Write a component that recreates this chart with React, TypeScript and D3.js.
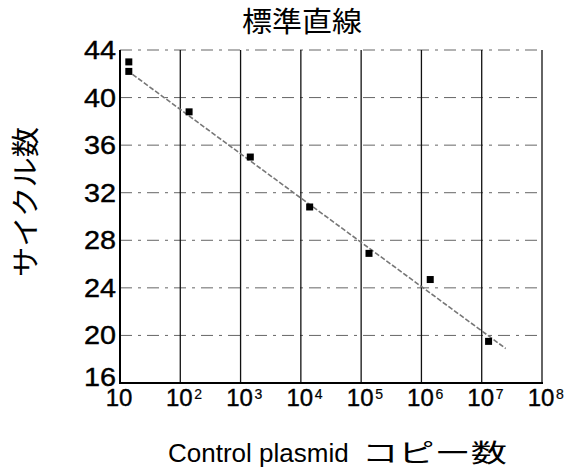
import React from 'react';
import * as d3 from 'd3';

// copy number vs. cycle threshold
const copies = [14, 14, 140, 1450, 14000, 135000, 1.4e6, 1.3e7];
const cycles = [43.0, 42.2, 38.8, 35.0, 30.8, 26.9, 24.7, 19.5];

// fitted line end points
const fitCopies = [13, 2.5e7];
const fitCycles = [42.3, 18.9];

const yTicks = [16, 20, 24, 28, 32, 36, 40, 44];
const xTicks = [10, 1e2, 1e3, 1e4, 1e5, 1e6, 1e7, 1e8];
const xExp = ['', '2', '3', '4', '5', '6', '7', '8'];

const title = '標準直線';
const xTitleLatin = 'Control plasmid';
const xTitleJp = 'コピー数';
const yTitle = 'サイクル数';

const W = 564;
const H = 475;
const left = 120;
const right = 542;
const top = 50;
const bottom = 383;

const font = '"Liberation Sans", Arial, sans-serif';
const jpFont = '"Noto Sans CJK JP", "Liberation Sans", sans-serif';

const App = () => {
    const x = d3.scaleLog().domain([10, 1e8]).range([left, right]);
    const y = d3.scaleLinear().domain([16, 44]).range([bottom, top]);
    const line = d3.line<number>()
        .x((d, i) => x(fitCopies[i]))
        .y(d => y(d));

    return (
        <svg width={W} height={H} style={{ position: 'absolute', left: 0, top: 0, background: '#fff' }}>
            <text x={242} y={32} textLength={120} lengthAdjust="spacingAndGlyphs"
                fontFamily={jpFont} fontSize={28} fill="#000">{title}</text>

            {/* horizontal dash-dot grid */}
            {yTicks.filter(t => t > 16).map(t => (
                <line key={'h' + t} x1={left} x2={right} y1={y(t)} y2={y(t)}
                    stroke="#000" strokeWidth={1} strokeDasharray="12 6 3 6" opacity={0.6} />
            ))}

            {/* vertical decade lines */}
            {xTicks.slice(1).map(t => (
                <line key={'v' + t} x1={x(t)} x2={x(t)} y1={top} y2={bottom}
                    stroke="#111" strokeWidth={1.3} />
            ))}

            {/* axes */}
            <line x1={left} x2={left} y1={top} y2={bottom + 1} stroke="#000" strokeWidth={2} />
            <line x1={left} x2={right + 1} y1={bottom} y2={bottom} stroke="#000" strokeWidth={2} />

            {/* fit line */}
            <path d={line(fitCycles) || ''} fill="none" stroke="#777" strokeWidth={1.6} strokeDasharray="5 2" />

            {/* points */}
            {copies.map((c, i) => (
                <rect key={'p' + i} x={x(c) - 3.5} y={y(cycles[i]) - 3.5} width={7} height={7} fill="#000" />
            ))}

            {/* y tick labels */}
            {yTicks.map(t => (
                <text key={'yl' + t} x={84} y={y(t) - (t === 16 ? 6 : 0)} dy="0.36em"
                    textLength={32} lengthAdjust="spacingAndGlyphs"
                    fontFamily={font} fontSize={25} fill="#000" stroke="#000" strokeWidth={0.4}>{t}</text>
            ))}

            {/* x tick labels */}
            {xTicks.map((t, i) => (
                <g key={'xl' + t}>
                    <text x={x(t) - 1} y={406} textAnchor="middle" fontFamily={font} fontSize={24}
                        fill="#000" stroke="#000" strokeWidth={0.4}>10</text>
                    {xExp[i] && (
                        <text x={x(t) + 14} y={399} fontFamily={font} fontSize={14} fill="#000"
                            stroke="#000" strokeWidth={0.2}>{xExp[i]}</text>
                    )}
                </g>
            ))}

            <text x={168} y={462} fontFamily={font} fontSize={26} fill="#000">{xTitleLatin}</text>
            <text x={362} y={462} textLength={145} lengthAdjust="spacingAndGlyphs"
                fontFamily={jpFont} fontSize={25} fill="#000">{xTitleJp}</text>
            <text transform={`translate(36,202) rotate(-90)`} x={-75} textLength={150}
                lengthAdjust="spacingAndGlyphs" fontFamily={jpFont}
                fontSize={28} fill="#000">{yTitle}</text>
        </svg>
    );
};

export default App;
